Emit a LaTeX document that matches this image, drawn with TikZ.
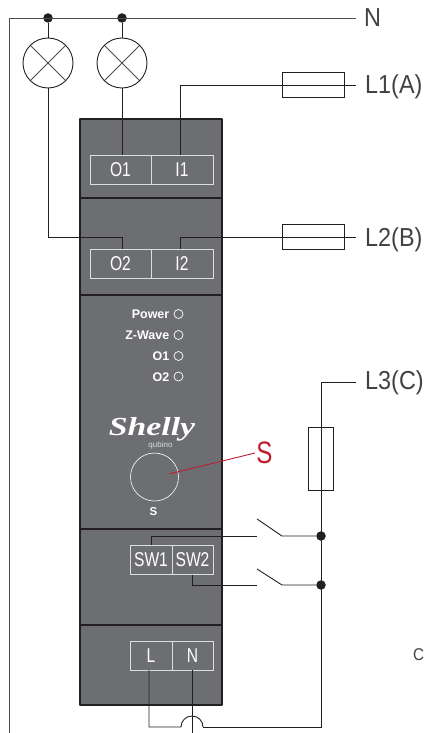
\documentclass[tikz,border=0pt]{standalone}
\usepackage{fontspec}
\setmainfont{Liberation Sans}
\newfontfamily\narrowfont[FakeStretch=0.9]{Liberation Sans}
\newfontfamily\termfont[FakeStretch=0.78]{Liberation Sans}
\newfontfamily\redfont[FakeStretch=0.78]{Liberation Sans}
\newfontfamily\logofont[FakeStretch=1.3]{Liberation Serif}
\usetikzlibrary{calc}

\definecolor{housing}{HTML}{6D6E71}
\definecolor{wirecol}{HTML}{231F20}
\definecolor{termcol}{HTML}{DCDDDE}
\definecolor{tagred}{HTML}{BE1E2D}

\tikzset{
  wire/.style={draw=wirecol, line width=0.9pt},
  housingbox/.style={draw=wirecol, fill=housing, line width=1.4pt, line join=round},
  termbox/.style={draw=termcol, line width=0.9pt, text=white, minimum width=#1, minimum height=29, inner sep=0pt, font=\termfont\fontsize{20}{20}\selectfont},
  fusebox/.style={draw=wirecol, line width=0.8pt, inner sep=0pt},
  lamp/.style={circle, draw=wirecol, line width=0.9pt, minimum size=50, inner sep=0pt,
    path picture={\draw[line width=0.9pt, draw=wirecol!80] (path picture bounding box.north west) -- (path picture bounding box.south east)
      (path picture bounding box.north east) -- (path picture bounding box.south west);}},
  joint/.style={circle, fill=wirecol, inner sep=0pt, minimum size=9.5},
  tag/.style={text=wirecol!85, anchor=base west, inner sep=0pt, font=\narrowfont\fontsize{26}{26}\selectfont},
  ledtext/.style={text=white, anchor=base east, inner sep=0pt, font=\bfseries\fontsize{12.5}{13}\selectfont},
  led/.style={circle, draw=white, line width=0.7pt, minimum size=9, inner sep=0pt}
}

\begin{document}
\begin{tikzpicture}[x=1pt, y=-1pt]
  \useasboundingbox (0,0) rectangle (423,733);

  % housing
  \draw[housingbox] (80,119) rectangle (222,705);
  \draw[line width=1.4pt, draw=wirecol] (80,198) -- (222,198);
  \draw[line width=1.4pt, draw=wirecol] (80,295) -- (222,295);
  \draw[line width=1.4pt, draw=wirecol] (80,529) -- (222,529);
  \draw[line width=1.4pt, draw=wirecol] (80,625) -- (222,625);

  % terminals
  \node[termbox=61] (o1) at (120.5,169.5) {O1};
  \node[termbox=62] (i1) at (182,169.5) {I1};
  \node[termbox=61] (o2) at (120.5,264) {O2};
  \node[termbox=62] (i2) at (182,264) {I2};
  \node[termbox=42] (sw1) at (151,560) {SW1};
  \node[termbox=41] (sw2) at (192.5,560) {SW2};
  \node[termbox=42] (l) at (151,655.5) {L};
  \node[termbox=41] (n) at (192.5,655.5) {N};

  % lamps and fuses
  \node[lamp] (lampa) at (48,63) {};
  \node[lamp] (lampb) at (122,63) {};
  \node[joint] (ja) at (48,18) {};
  \node[joint] (jb) at (122,18) {};
  \node[fusebox, minimum width=62, minimum height=25] (fusea) at (313,84.5) {};
  \node[fusebox, minimum width=62, minimum height=25] (fuseb) at (313,236.5) {};
  \node[fusebox, minimum width=25, minimum height=63] (fusec) at (321,458.5) {};
  \node[joint] (jc) at (321,536) {};
  \node[joint] (jd) at (321,585) {};

  % labels
  \node[tag] (tagn) at (364,27) {N};
  \node[tag] (taga) at (365,94) {L1(A)};
  \node[tag] (tagb) at (365,246) {L2(B)};
  \node[tag] (tagc) at (365,389) {L3(C)};
  \node[tag, font=\narrowfont\fontsize{17}{17}\selectfont] (tagd) at (413,660) {C};

  % free ends
  \coordinate (nend) at (356,18);
  \coordinate (aend) at (356,85);
  \coordinate (bend) at (356,237);
  \coordinate (cend) at (356,382);
  \coordinate (i1in) at (180,155);
  \coordinate (i2in) at (180,249);
  \coordinate (lout) at (149,670);
  \coordinate (humpa) at (181,727);
  \coordinate (humpb) at (203,727);
  \coordinate (sw1a) at (257,536);
  \coordinate (sw1b) at (257,519);
  \coordinate (sw1c) at (282,536);
  \coordinate (sw2a) at (257,585);
  \coordinate (sw2b) at (257,569);
  \coordinate (sw2c) at (282,585);

  % wires
  \draw[wire, draw=wirecol!80] (9,733) -- (9,18) -- (nend);
  \draw[wire] (ja) -- (lampa.north);
  \draw[wire] (jb) -- (lampb.north);
  \draw[wire] (lampa.south) |- (122,237) -- (122,249);
  \draw[wire] (lampb.south) -- (122,155);
  \draw[wire] (i1in) |- (aend);
  \draw[wire] (i2in) |- (bend);
  \draw[wire] (sw1.north) |- (sw1a);
  \draw[wire] (sw2.south) |- (sw2a);
  \draw[wire] (sw1b) -- (sw1c) -- (jc);
  \draw[wire] (sw2b) -- (sw2c) -- (jd);
  \draw[wire] (cend) -| (321,727) -- (humpb);
  \draw[wire] (lout) |- (humpa) arc[start angle=180, end angle=360, radius=11];
  \draw[wire] (n.south) -- (192.5,733);

  % front panel
  \node[ledtext] (ledtexta) at (169.5,318.5) {Power};
  \node[ledtext] (ledtextb) at (169.5,339.5) {Z-Wave};
  \node[ledtext] (ledtextc) at (169.5,360.5) {O1};
  \node[ledtext] (ledtextd) at (169.5,381) {O2};
  \node[led] (leda) at (178.5,314) {};
  \node[led] (ledb) at (178.5,335) {};
  \node[led] (ledc) at (178.5,356) {};
  \node[led] (ledd) at (178.5,376.5) {};
  \node[text=white, anchor=base, inner sep=0pt, font=\logofont\bfseries\itshape\fontsize{26}{26}\selectfont] (logo) at (152,435) {Shelly};
  \node[text=termcol, inner sep=0pt, font=\fontsize{8}{8}\selectfont] (qubino) at (160.5,445) {qubino};
  \node[circle, draw=white, line width=0.6pt, minimum size=48, inner sep=0pt] (button) at (154.5,477) {};
  \node[text=white, inner sep=0pt, font=\bfseries\fontsize{11.5}{12}\selectfont] (buttontext) at (153.5,512) {S};
  \node[text=tagred, inner sep=0pt, font=\redfont\fontsize{31}{31}\selectfont] (tags) at (264.5,452.5) {S};
  \draw[draw=tagred, line width=0.9pt] (169,474) -- (255,453);
\end{tikzpicture}
\end{document}
